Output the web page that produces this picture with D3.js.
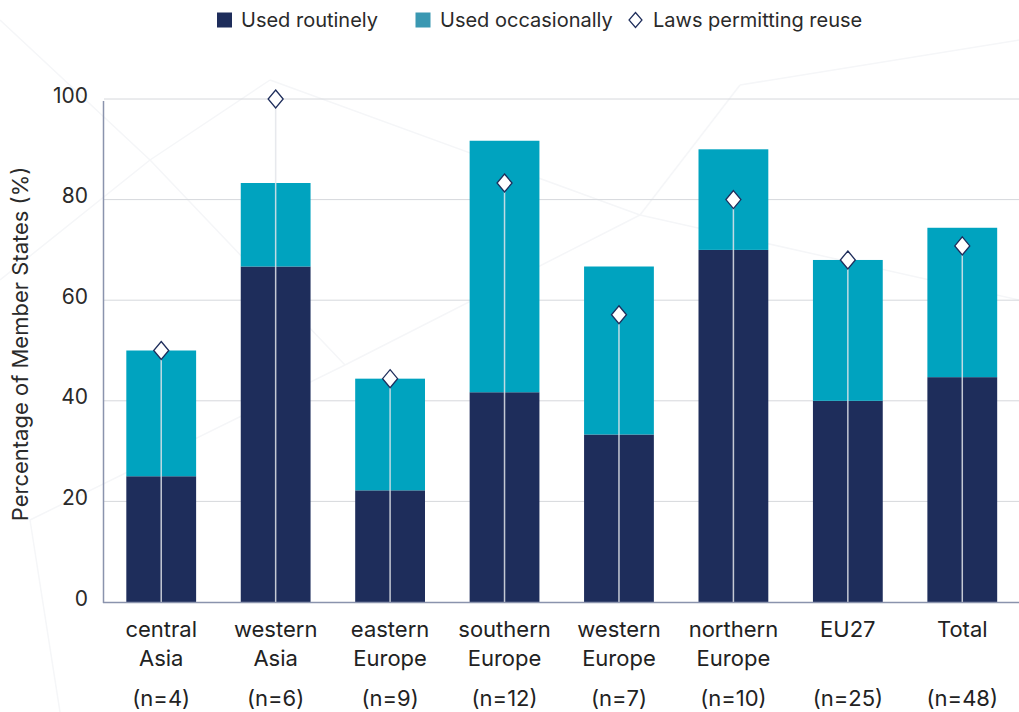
<!DOCTYPE html>
<html><head><meta charset="utf-8">
<script src="https://cdn.jsdelivr.net/npm/d3@7/dist/d3.min.js"></script>
<style>
html,body{margin:0;padding:0;background:#fff;}
svg{display:block;font-family:Inter,"Noto Sans",sans-serif;}
</style></head>
<body>
<svg id="chart" width="1019" height="712"></svg>
<script>
const categories = [["central","Asia"],["western","Asia"],["eastern","Europe"],["southern","Europe"],["western","Europe"],["northern","Europe"],["EU27",""],["Total",""]];
const counts = ["(n=4)","(n=6)","(n=9)","(n=12)","(n=7)","(n=10)","(n=25)","(n=48)"];
const routine = [25, 66.7, 22.2, 41.7, 33.3, 70, 40, 44.7];
const occasional = [25, 16.6, 22.2, 50, 33.4, 20, 28, 29.7];
const laws = [50, 100, 44.4, 83.3, 57.1, 80, 68, 70.8];
const yTicks = [0, 20, 40, 60, 80, 100];
const legendLabels = ["Used routinely", "Used occasionally", "Laws permitting reuse"];

const colors = {routine:"#1e2d5b", occasional:"#00a3bf", legendOcc:"#3a98b2", diamond:"#1e2d5b"};

const svg = d3.select("#chart");
const keys = categories.map((c,i)=>i);

const x = d3.scaleBand().domain(keys).range([104, 1019.5]).paddingInner(0.39).paddingOuter(0.195);
const y = d3.scaleLinear().domain([0,100]).range([602, 99]);

function diamondPath(w,h){ return `M0,${-h/2}L${w/2},0L0,${h/2}L${-w/2},0Z`; }

// faint background decoration
const bg = svg.append("g").attr("stroke","#f5f6f8").attr("stroke-width",1.5).attr("fill","none");
[[0,20,150,160],[150,160,270,80],[150,160,345,365],[345,365,30,520],[270,80,640,215],[640,215,740,85],[740,85,1019,40],[640,215,1019,300],[30,520,60,712],[345,365,640,215],[0,280,150,160]].forEach(l=>{
  bg.append("line").attr("x1",l[0]).attr("y1",l[1]).attr("x2",l[2]).attr("y2",l[3]);
});

// gridlines
svg.append("g").selectAll("line").data(yTicks.filter(d=>d>0)).join("line")
  .attr("x1",104).attr("x2",1019).attr("y1",d=>y(d)).attr("y2",d=>y(d))
  .attr("stroke","#d6d8dc").attr("stroke-width",1);

// y tick labels
svg.append("g").selectAll("text").data(yTicks).join("text")
  .attr("x",88).attr("y",d=>y(d)).attr("dy","-0.1em")
  .attr("text-anchor","end").attr("dominant-baseline","middle")
  .attr("font-size",21).attr("fill","#2a2a2a").text(d=>d);

// y axis title
svg.append("text").attr("transform","translate(28,344) rotate(-90)")
  .attr("text-anchor","middle").attr("font-size",22).attr("fill","#2a2a2a")
  .text("Percentage of Member States (%)");

// stacked bars
const bw = x.bandwidth();
svg.append("g").selectAll("rect").data(keys).join("rect")
  .attr("x",i=>x(i)).attr("width",bw)
  .attr("y",i=>y(routine[i])).attr("height",i=>y(0)-y(routine[i]))
  .attr("fill",colors.routine);
svg.append("g").selectAll("rect").data(keys).join("rect")
  .attr("x",i=>x(i)).attr("width",bw)
  .attr("y",i=>y(routine[i]+occasional[i])).attr("height",i=>y(routine[i])-y(routine[i]+occasional[i]))
  .attr("fill",colors.occasional);

// law lines
svg.append("g").selectAll("line").data(keys).join("line")
  .attr("x1",i=>x(i)+bw/2).attr("x2",i=>x(i)+bw/2)
  .attr("y1",y(0)).attr("y2",i=>y(laws[i]))
  .attr("stroke","#e3e5ea").attr("stroke-opacity",0.85).attr("stroke-width",1.5);

// axes lines
svg.append("line").attr("x1",103.5).attr("x2",103.5).attr("y1",y(100)+2).attr("y2",603)
  .attr("stroke","#8a93ad").attr("stroke-width",1.5);
svg.append("line").attr("x1",103).attr("x2",1019).attr("y1",602.5).attr("y2",602.5)
  .attr("stroke","#8a93ad").attr("stroke-width",1.5);

// diamonds
svg.append("g").selectAll("path").data(keys).join("path")
  .attr("d",diamondPath(15,18))
  .attr("transform",i=>`translate(${x(i)+bw/2},${y(laws[i])})`)
  .attr("fill","#fff").attr("stroke",colors.diamond).attr("stroke-width",1.3);

// x labels
const xl = svg.append("g").attr("font-size",22).attr("fill","#222").attr("text-anchor","middle");
keys.forEach(i=>{
  const cx = x(i)+bw/2;
  xl.append("text").attr("x",cx).attr("y",637).text(categories[i][0]);
  if (categories[i][1]) xl.append("text").attr("x",cx).attr("y",666).text(categories[i][1]);
  xl.append("text").attr("x",cx).attr("y",706).text(counts[i]);
});

// legend
const lg = svg.append("g").attr("font-size",20).attr("fill","#2a2a2a");
lg.append("rect").attr("x",217).attr("y",12.5).attr("width",15).attr("height",15).attr("fill",colors.routine);
lg.append("text").attr("x",241).attr("y",27).text(legendLabels[0]);
lg.append("rect").attr("x",415.5).attr("y",12.5).attr("width",15).attr("height",15).attr("fill",colors.legendOcc);
lg.append("text").attr("x",440).attr("y",27).text(legendLabels[1]);
lg.append("path").attr("d",diamondPath(13,15))
  .attr("transform","translate(635.5,20)").attr("fill","#fff").attr("stroke",colors.diamond).attr("stroke-width",1.2);
lg.append("text").attr("x",653).attr("y",27).text(legendLabels[2]);
</script>
</body></html>
